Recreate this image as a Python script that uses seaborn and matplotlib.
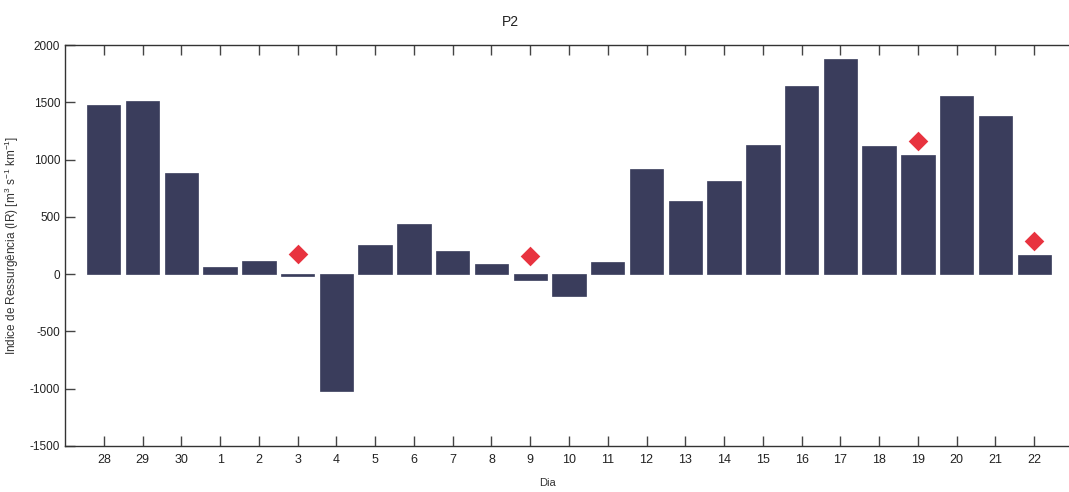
import matplotlib
matplotlib.use("Agg")
import matplotlib.pyplot as plt
import seaborn as sns
import pandas as pd

days = ["28", "29", "30", "1", "2", "3", "4", "5", "6", "7", "8", "9", "10",
        "11", "12", "13", "14", "15", "16", "17", "18", "19", "20", "21", "22"]
ir_values = [1480, 1515, 880, 60, 115, -15, -1020, 250, 434, 200, 87, -55, -195,
             107, 922, 637, 812, 1126, 1643, 1882, 1120, 1041, 1553, 1381, 168]
marker_days = ["3", "9", "19", "22"]
marker_values = [172, 157, 1163, 285]
yticks = [-1500, -1000, -500, 0, 500, 1000, 1500, 2000]

sns.set_style("white")
plt.rcParams["font.family"] = ["Liberation Sans", "DejaVu Sans"]
plt.rcParams["mathtext.fontset"] = "custom"
plt.rcParams["mathtext.rm"] = "Liberation Sans"
plt.rcParams["mathtext.it"] = "Liberation Sans"

bars = pd.DataFrame({"Dia": days, "IR": ir_values})
marks = pd.DataFrame({"Dia": marker_days, "IR": marker_values})

fig = plt.figure(figsize=(10.69, 4.92), dpi=100)
ax = fig.add_axes([65 / 1069, 1 - 446 / 492, (1073 - 65) / 1069, (446 - 45) / 492])

sns.barplot(data=bars, x="Dia", y="IR", order=days, color="#3a3d5c",
            saturation=1, width=0.86, edgecolor="#3a3d5c", linewidth=0.5, ax=ax)
sns.stripplot(data=marks, x="Dia", y="IR", order=days, jitter=False,
              marker="D", color="#e8333f", size=10, linewidth=0, ax=ax, zorder=5)

ax.set_xlim(-1, 25)
ax.set_ylim(-1500, 2000)
ax.set_yticks(yticks)
ax.set_yticklabels([str(v) for v in yticks])

for s in ax.spines.values():
    s.set_color("#333333")
    s.set_linewidth(1.0)
ax.spines["right"].set_visible(False)

ax.tick_params(axis="x", direction="in", length=7, width=1, color="#444444",
               top=True, bottom=True, labelsize=9, pad=6, labelcolor="#222222")
ax.tick_params(axis="y", direction="in", length=7, width=1, color="#444444",
               left=True, right=False, labelsize=8.5, labelcolor="#222222")

ax.set_xlabel("")
ax.set_ylabel("Indice de Ressurgência (IR) [m$^3$ s$^{-1}$ km$^{-1}$]",
              fontsize=8.5, color="#333333", labelpad=6)
fig.text(548 / 1069, 1 - 483 / 492, "Dia", ha="center", va="center",
         fontsize=8, color="#333333")
fig.text(510 / 1069, 1 - 22 / 492, "P2", ha="center", va="center",
         fontsize=10, color="#222222")

fig.savefig("out.png", dpi=100, facecolor="white")
